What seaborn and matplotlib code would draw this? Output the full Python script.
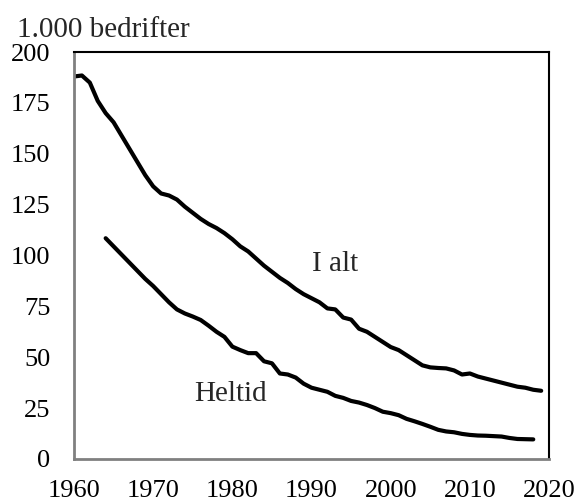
import matplotlib
matplotlib.use("Agg")
import matplotlib.pyplot as plt
import seaborn as sns
import pandas as pd

sns.set_style("white")
plt.rcParams["font.family"] = ["Liberation Serif", "DejaVu Serif"]

# ---- data (1.000 bedrifter) ----
years_total = list(range(1960, 2020))
total = [188, 188.5, 185, 176, 170, 165.5, 159, 152.5, 146, 139.5,
         134, 130.5, 129.5, 127.5, 124, 121, 118, 115.5, 113.5, 111,
         108, 104.5, 102, 98.5, 95, 92, 89, 86.5, 83.5, 81,
         79, 77, 74, 73.5, 69.5, 68.5, 64, 62.5, 60, 57.5,
         55, 53.5, 51, 48.5, 46, 45, 44.7, 44.5, 43.5, 41.5,
         42, 40.5, 39.5, 38.5, 37.5, 36.5, 35.5, 35, 34, 33.5]

years_full = list(range(1964, 2019))
fulltime = [108.5, 104.5, 100.5, 96.5, 92.5, 88.5,
            85, 81, 77, 73.5, 71.5, 70, 68.3, 65.5, 62.5, 60,
            55.2, 53.5, 52, 52, 48, 47, 42, 41.5, 40, 37,
            35, 34, 33, 31, 30, 28.5, 27.7, 26.5, 25, 23.2,
            22.5, 21.5, 19.7, 18.5, 17.2, 15.8, 14.3, 13.5, 13.1, 12.3,
            11.8, 11.5, 11.4, 11.2, 11, 10.3, 9.8, 9.7, 9.6]

df_total = pd.DataFrame({"year": years_total, "value": total})
df_full = pd.DataFrame({"year": years_full, "value": fulltime})

# ---- plot ----
fig = plt.figure(figsize=(5.78, 5.01), dpi=100)
ax = fig.add_axes([0.128, 0.084, 0.822, 0.812])

sns.lineplot(data=df_total, x="year", y="value", color="black", lw=3, ax=ax)
sns.lineplot(data=df_full, x="year", y="value", color="black", lw=3, ax=ax)

ax.set_xlim(1960, 2020)
ax.set_ylim(0, 200)
ax.set_xticks(range(1960, 2021, 10))
ax.set_yticks(range(0, 201, 25))
ax.set_xlabel("")
ax.set_ylabel("")

grey = "#808080"
for side in ["left", "bottom"]:
    ax.spines[side].set_color(grey)
    ax.spines[side].set_linewidth(2)
for side in ["top", "right"]:
    ax.spines[side].set_color("black")
    ax.spines[side].set_linewidth(1.5)

ax.tick_params(axis="both", which="major", direction="out", length=6,
               width=1.5, color=grey, labelsize=19, labelcolor="black")
ax.tick_params(axis="y", pad=11)
ax.tick_params(axis="x", pad=9)

ax.text(1993, 96, "I alt", fontsize=21, ha="center", va="center")
ax.text(1979.8, 32, "Heltid", fontsize=21, ha="center", va="center")
fig.text(0.03, 0.926, "1.000 bedrifter", fontsize=21, ha="left",
         va="baseline")

fig.savefig("out.png", dpi=100)
